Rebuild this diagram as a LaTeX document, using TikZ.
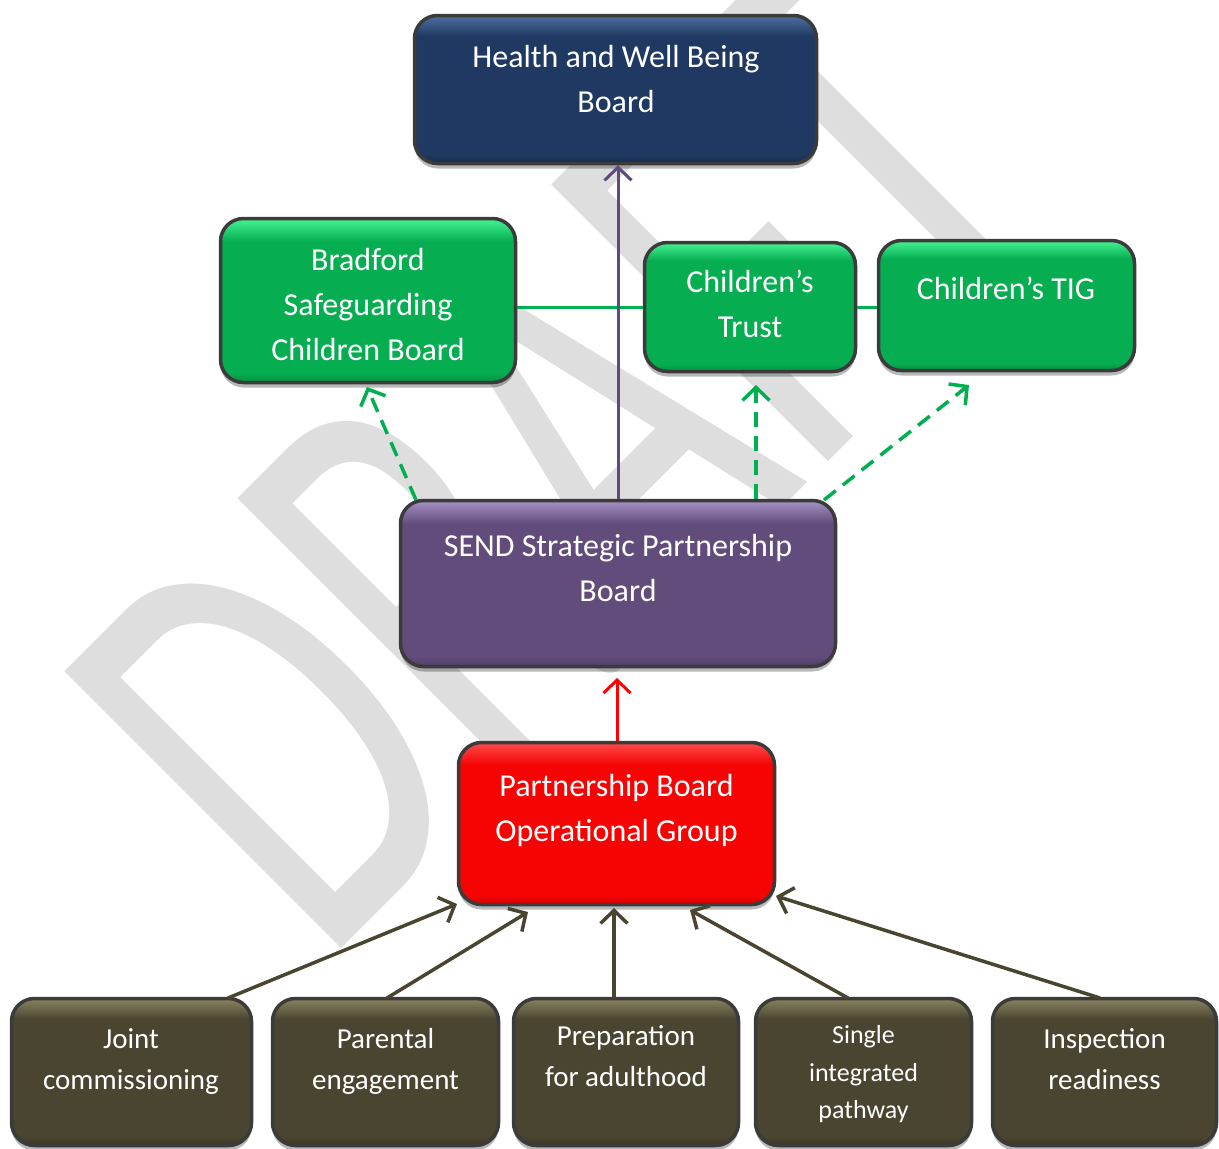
\documentclass[tikz,border=0pt]{standalone}
\usepackage{fontspec}
\setmainfont{Carlito}
\usetikzlibrary{arrows.meta,shadows}
\definecolor{navyC}{HTML}{1F3962}\definecolor{navyL}{HTML}{4F6F9F}\definecolor{navyD}{HTML}{162C4C}
\definecolor{grnC}{HTML}{06AE51}\definecolor{grnL}{HTML}{45F495}\definecolor{grnD}{HTML}{049040}
\definecolor{purC}{HTML}{614C7C}\definecolor{purL}{HTML}{A591C4}\definecolor{purD}{HTML}{4E3D65}
\definecolor{redC}{HTML}{F60404}\definecolor{redL}{HTML}{FF4A4A}\definecolor{redD}{HTML}{D80000}
\definecolor{olvC}{HTML}{4A4530}\definecolor{olvL}{HTML}{8A8462}\definecolor{olvD}{HTML}{3A3626}
\definecolor{bline}{HTML}{3B3B3B}
\definecolor{wmgray}{HTML}{DEDEDE}
\definecolor{lnpur}{HTML}{604A7B}
\definecolor{lngrn}{HTML}{00B050}
\definecolor{lnred}{HTML}{FF0000}
\definecolor{lnolv}{HTML}{4A4530}
\pgfdeclareverticalshading{shnavy}{100bp}{color(0bp)=(navyD); color(25bp)=(navyD); color(28bp)=(navyC); color(68bp)=(navyC); color(75bp)=(navyL); color(100bp)=(navyL)}
\pgfdeclareverticalshading{shgrn}{100bp}{color(0bp)=(grnD); color(25bp)=(grnD); color(28bp)=(grnC); color(68bp)=(grnC); color(75bp)=(grnL); color(100bp)=(grnL)}
\pgfdeclareverticalshading{shpur}{100bp}{color(0bp)=(purD); color(25bp)=(purD); color(28bp)=(purC); color(68bp)=(purC); color(75bp)=(purL); color(100bp)=(purL)}
\pgfdeclareverticalshading{shred}{100bp}{color(0bp)=(redD); color(25bp)=(redD); color(28bp)=(redC); color(68bp)=(redC); color(75bp)=(redL); color(100bp)=(redL)}
\pgfdeclareverticalshading{sholv}{100bp}{color(0bp)=(olvD); color(25bp)=(olvD); color(28bp)=(olvC); color(68bp)=(olvC); color(75bp)=(olvL); color(100bp)=(olvL)}
\begin{document}
\begin{tikzpicture}[x=1pt,y=-1pt,
  box/.style={draw=bline, line width=3.5pt, rounded corners=23pt, shade,
    drop shadow={shadow xshift=0pt, shadow yshift=-5pt, opacity=0.28, fill=black}},
  lbl/.style={text=white, align=center, inner sep=0pt, font=\fontsize{32}{45}\selectfont},
  lblb/.style={lbl, font=\fontsize{29}{41}\selectfont},
  lbls/.style={lbl, font=\fontsize{26}{37.5}\selectfont},
  tipa/.style={-{Straight Barb[length=13pt,width=27pt]}},
  pl/.style={draw=lnpur, line width=3pt},
  gl/.style={draw=lngrn, line width=3pt},
  gd/.style={draw=lngrn, line width=3.5pt, dash pattern=on 15pt off 9pt},
  rl/.style={draw=lnred, line width=3pt},
  ol/.style={draw=lnolv, line width=3.5pt}
]
\useasboundingbox (0,0) rectangle (1219,1149);
\fill[white] (0,0) rectangle (1219,1149);
% watermark
\begin{scope}
\clip (0,0) rectangle (1219,1149);
\begin{scope}[shift={(322,968)},rotate=45,xscale=0.65]
\node[anchor=base west, inner sep=0pt, transform shape, text=wmgray,
  font=\fontsize{610}{610}\selectfont] (wm) at (0,0) {DRAFT};
\end{scope}
\end{scope}
% boxes
\node[box, shading=shnavy, minimum width=402pt, minimum height=148pt] (hw) at (615.5,89.5) {};
\node[box, shading=shgrn, minimum width=295pt, minimum height=164pt] (bscb) at (368,300.5) {};
\node[box, shading=shgrn, minimum width=211pt, minimum height=129pt] (ct) at (750,307) {};
\node[box, shading=shgrn, minimum width=256pt, minimum height=130pt] (tig) at (1006.5,305.5) {};
\node[box, shading=shpur, minimum width=435pt, minimum height=166pt] (send) at (618,583.5) {};
\node[box, shading=shred, minimum width=316pt, minimum height=162pt] (pbog) at (616.5,823.5) {};
\node[box, shading=sholv, minimum width=240pt, minimum height=147pt] (jc) at (131.5,1072) {};
\node[box, shading=sholv, minimum width=226pt, minimum height=147pt] (pe) at (385.5,1072) {};
\node[box, shading=sholv, minimum width=225pt, minimum height=147pt] (pa) at (626,1072) {};
\node[box, shading=sholv, minimum width=216pt, minimum height=147pt] (sip) at (863.5,1072) {};
\node[box, shading=sholv, minimum width=224pt, minimum height=147pt] (ir) at (1104.5,1072) {};
% labels
\node[lbl] (hwt) at (616,80.5) {\strut Health and Well Being\\\strut Board};
\node[lbl] (bscbt) at (368,306) {\strut Bradford\\\strut Safeguarding\\\strut Children Board};
\node[lbl] (ctt) at (750,305.5) {\strut Children’s\\\strut Trust};
\node[lbl] (tigt) at (1006,290) {\strut Children’s TIG};
\node[lbl] (sendt) at (618,570) {\strut SEND Strategic Partnership\\\strut Board};
\node[lbl] (pbogt) at (616.5,809.5) {\strut Partnership Board\\\strut Operational Group};
\node[lblb] (jct) at (131,1060.5) {\strut Joint\\\strut commissioning};
\node[lblb] (pet) at (385.5,1060.5) {\strut Parental\\\strut engagement};
\node[lblb] (pat) at (626,1057.5) {\strut Preparation\\\strut for adulthood};
\node[lbls] (sipt) at (863.5,1073.5) {\strut Single\\\strut integrated\\\strut pathway};
\node[lblb] (irt) at (1104.5,1060.5) {\strut Inspection\\\strut readiness};
% connector end points
\coordinate (g1s) at (416,500);
\coordinate (g1e) at (367,387);
\coordinate (g2s) at (756,499);
\coordinate (g2e) at (756,385);
\coordinate (g3s) at (824,500);
\coordinate (g3e) at (969,385);
\coordinate (o1) at (457,904);
\coordinate (o2) at (528,912);
\coordinate (o3) at (614,908);
\coordinate (o4) at (690,910);
\coordinate (o5) at (776,896);
\coordinate (s1) at (228,998);
\coordinate (s2) at (387,998);
\coordinate (s3) at (614,998);
\coordinate (s4) at (848,998);
\coordinate (s5) at (1100,998);
\coordinate (rtop) at (617,678);
% connectors
\draw[gl] (ct.west) -- (ct.west -| bscb.east);
\draw[gl] (ct.east) -- (ct.east -| tig.west);
\draw[pl, tipa] (send.north) -- (send.north |- hw.south);
\draw[gd, tipa] (g1s) -- (g1e);
\draw[gd, tipa] (g2s) -- (g2e);
\draw[gd, tipa] (g3s) -- (g3e);
\draw[rl, tipa] (rtop |- pbog.north) -- (rtop);
\draw[ol, tipa] (s1) -- (o1);
\draw[ol, tipa] (s2) -- (o2);
\draw[ol, tipa] (s3) -- (o3);
\draw[ol, tipa] (s4) -- (o4);
\draw[ol, tipa] (s5) -- (o5);
\end{tikzpicture}
\end{document}
